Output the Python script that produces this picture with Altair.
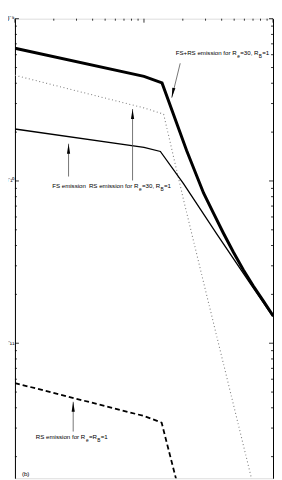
import altair as alt
import pandas as pd

# ---------------- data ----------------
X_DOMAIN = [10, 1000]
Y_DOMAIN = [1.472e-12, 1e-9]

# FS+RS emission for Re=30, RB=1 (thick solid)
FSRS_X = [10, 100, 138, 214, 290, 345.5, 412, 492.4, 588, 701.7, 838, 1000]
FSRS_Y = [6.58e-10, 4.41e-10, 4.02e-10, 1.54e-10, 8.40e-11, 6.33e-11, 4.78e-11, 3.65e-11,
          2.84e-11, 2.26e-11, 1.83e-11, 1.48e-11]
# FS emission (thin solid)
FS_X = [10, 100, 134, 203, 365, 665, 1000]
FS_Y = [2.09e-10, 1.61e-10, 1.52e-10, 9.60e-11, 4.74e-11, 2.34e-11, 1.46e-11]
# RS emission for Re=30, RB=1 (dotted)
RS30_X = [10, 100, 142, 203, 290, 678, 800]
RS30_Y = [4.48e-10, 2.82e-10, 2.58e-10, 7.60e-11, 2.36e-11, 1.49e-12, 8.6e-13]
# RS emission for Re=RB=1 (dashed)
RS1_X = [10, 100, 137, 176, 200]
RS1_Y = [5.68e-12, 3.56e-12, 3.24e-12, 1.49e-12, 1.0e-12]

# tick values
Y_MAJOR = [1e-9, 1e-10, 1e-11]
Y_MINOR = [k * 10.0 ** e for e in (-10, -11, -12) for k in range(2, 10) if k * 10.0 ** e >= Y_DOMAIN[0]]
X_MAJOR = [10, 100, 1000]
X_MINOR = [k * 10 ** e for e in (1, 2) for k in range(2, 10)]

# arrows (start -> tip, in data units)
ARR_X0 = [190.9, 26.03, 81.56, 28.28]
ARR_Y0 = [5.31e-10, 1.065e-10, 1.007e-10, 2.855e-12]
ARR_X1 = [164.2, 26.03, 81.56, 28.28]
ARR_Y1 = [3.26e-10, 1.696e-10, 2.776e-10, 4.356e-12]
ARR_ANGLE = [192, 0, 0, 0]

# label pieces (left edge, vertical centre)
MAIN_T = ["FS+RS emission for R", "=30, R", "=1",
          "FS emission",
          "RS emission for R", "=30, R", "=1",
          "RS emission for R", "=R", "=1",
          "(b)"]
MAIN_X = [176.3, 557.3, 825.8,
          19.43,
          37.42, 96.52, 143.0,
          14.50, 37.42, 46.19,
          11.32]
MAIN_Y = [6.135e-10, 6.135e-10, 6.135e-10,
          9.295e-11,
          9.295e-11, 9.295e-11, 9.295e-11,
          2.624e-12, 2.624e-12, 2.624e-12,
          1.558e-12]
SUB_T = ["e", "B", "e", "B", "e", "B"]
SUB_X = [528.5, 776.2, 91.53, 134.4, 35.48, 43.42]
SUB_Y = [5.839e-10, 5.839e-10, 8.845e-11, 8.845e-11, 2.497e-12, 2.497e-12]

FONT = "Liberation Sans"
W, H = 260, 463


def xs(field, axis=None):
    return alt.X(field, type="quantitative",
                 scale=alt.Scale(type="log", domain=X_DOMAIN), axis=axis)


def ys(field, axis=None):
    return alt.Y(field, type="quantitative",
                 scale=alt.Scale(type="log", domain=Y_DOMAIN), axis=axis)


def line_layer(xv, yv, **mark):
    df = pd.DataFrame({"x": xv, "y": yv})
    return alt.Chart(df).mark_line(clip=True, **mark).encode(x=xs("x"), y=ys("y"))


dashed = line_layer(RS1_X, RS1_Y, color="black", strokeWidth=1.8, strokeDash=[5, 3])
dotted = line_layer(RS30_X, RS30_Y, color="#808080", strokeWidth=1.1, strokeDash=[1, 2.6])
thin = line_layer(FS_X, FS_Y, color="black", strokeWidth=1.3)
thick = line_layer(FSRS_X, FSRS_Y, color="black", strokeWidth=3)

arr_df = pd.DataFrame({"x0": ARR_X0, "y0": ARR_Y0, "x1": ARR_X1, "y1": ARR_Y1, "a": ARR_ANGLE})
shafts = alt.Chart(arr_df).mark_rule(color="#555555", strokeWidth=0.8).encode(
    x=xs("x0"), y=ys("y0"), x2="x1", y2="y1")
heads = alt.Chart(arr_df).mark_point(
    shape="M0,0L0.32,2L-0.32,2Z", filled=True, size=100, color="black", opacity=1, strokeWidth=0
).encode(x=xs("x1"), y=ys("y1"), angle=alt.Angle("a:Q", scale=None))

main_df = pd.DataFrame({"x": MAIN_X, "y": MAIN_Y, "t": MAIN_T})
sub_df = pd.DataFrame({"x": SUB_X, "y": SUB_Y, "t": SUB_T})
main_txt = alt.Chart(main_df).mark_text(align="left", baseline="middle", font=FONT,
                                        fontSize=6.2, color="black").encode(
    x=xs("x"), y=ys("y"), text="t:N")
sub_txt = alt.Chart(sub_df).mark_text(align="left", baseline="middle", font=FONT,
                                      fontSize=4.8, color="black").encode(
    x=xs("x"), y=ys("y"), text="t:N")

# axes (domain lines + labels); ticks drawn inward below
left_axis = alt.Axis(orient="left", values=Y_MAJOR, ticks=False, grid=False, title=None,
                     domain=True, domainColor="black", domainWidth=1,
                     labelFont=FONT, labelFontSize=7, labelColor="black", labelPadding=1,
                     labelExpr="datum.value > 5e-10 ? '10⁻⁹' : datum.value > 5e-11 ? '10⁻¹⁰' : '10⁻¹¹'")
right_axis = alt.Axis(orient="right", values=Y_MAJOR, ticks=False, grid=False, title=None,
                      labels=False, domain=True, domainColor="black", domainWidth=1)
top_axis = alt.Axis(orient="top", values=X_MAJOR, ticks=False, grid=False, title=None,
                    labels=False, domain=True, domainColor="black", domainWidth=1)

ymaj = pd.DataFrame({"y": Y_MAJOR})
ymin = pd.DataFrame({"y": Y_MINOR})
xmaj = pd.DataFrame({"x": X_MAJOR})
xmin = pd.DataFrame({"x": X_MINOR})

tick_style = dict(color="black", strokeWidth=0.8)
left_maj = alt.Chart(ymaj).mark_rule(**tick_style).encode(
    y=ys("y", left_axis), x=alt.value(0), x2=alt.value(4))
left_min = alt.Chart(ymin).mark_rule(**tick_style).encode(
    y=ys("y"), x=alt.value(0), x2=alt.value(2))
right_maj = alt.Chart(ymaj).mark_rule(**tick_style).encode(
    y=ys("y", right_axis), x=alt.value(W), x2=alt.value(W - 4))
right_min = alt.Chart(ymin).mark_rule(**tick_style).encode(
    y=ys("y"), x=alt.value(W), x2=alt.value(W - 2))
top_maj = alt.Chart(xmaj).mark_rule(**tick_style).encode(
    x=xs("x", top_axis), y=alt.value(0), y2=alt.value(4))
top_min = alt.Chart(xmin).mark_rule(**tick_style).encode(
    x=xs("x"), y=alt.value(0), y2=alt.value(2))

chart = alt.layer(
    dashed, dotted, thin, thick, shafts, heads, main_txt, sub_txt,
    left_maj, left_min, right_maj, right_min, top_maj, top_min,
).resolve_axis(y="independent").properties(
    width=W, height=H,
    autosize=alt.AutoSizeParams(type="none"),
    padding={"left": 7, "top": 9, "right": 1, "bottom": 0},
).configure_view(stroke=None).configure(background="white")

chart.save("out.html", embed_options={"renderer": "svg", "actions": False})
